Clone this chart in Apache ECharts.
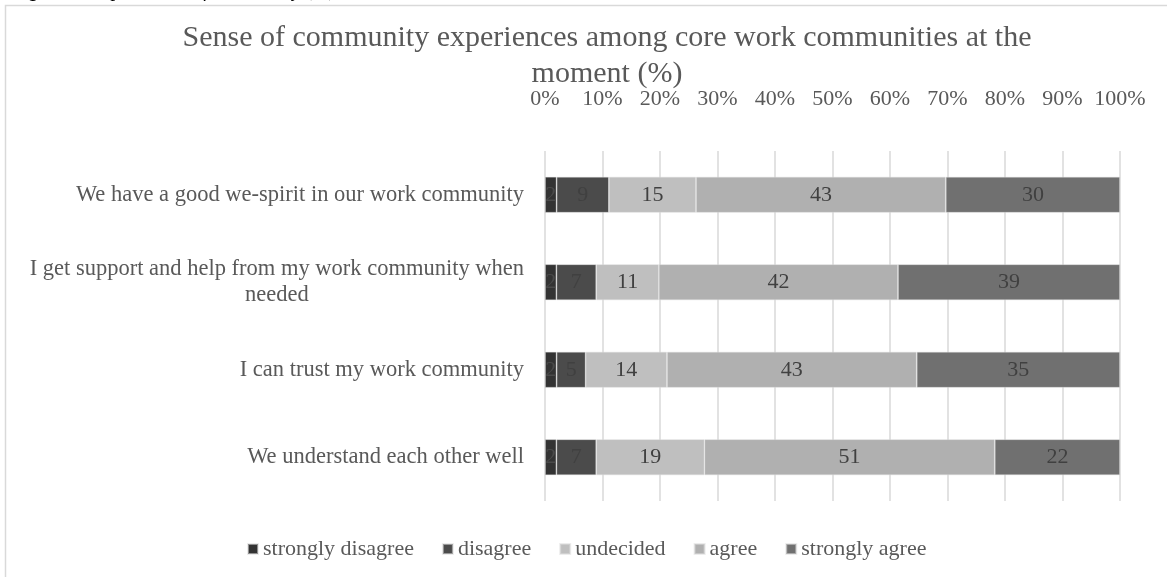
<!DOCTYPE html>
<html>
<head>
<meta charset="utf-8">
<title>Sense of community experiences</title>
<script src="https://cdn.jsdelivr.net/npm/echarts@6/dist/echarts.min.js"></script>
<style>
  html, body { margin: 0; padding: 0; background: #ffffff; }
  #chart { width: 1167px; height: 577px; }
</style>
</head>
<body>
<div id="chart"></div>
<script>
// Statements, top to bottom
const statements = [
  'We have a good we-spirit in our work community',
  'I get support and help from my work community when\nneeded',
  'I can trust my work community',
  'We understand each other well'
];

// Response categories
const responses = ['strongly disagree', 'disagree', 'undecided', 'agree', 'strongly agree'];

// Answer shares (%) per statement, in the order of the statements above
const stronglyDisagree = [2, 2, 2, 2];
const disagree         = [9, 7, 5, 7];
const undecided        = [15, 11, 14, 19];
const agree            = [43, 42, 43, 51];
const stronglyAgree    = [30, 39, 35, 22];

// Percent axis tick labels
const tickValues = [0, 10, 20, 30, 40, 50, 60, 70, 80, 90, 100];

const seriesValues = [stronglyDisagree, disagree, undecided, agree, stronglyAgree];
const seriesColors = ['#333333', '#4b4b4b', '#bfbfbf', '#b0b0b0', '#707070'];

// Each bar fills 100%: segments are scaled by the row total
const rowTotals = statements.map((_, i) =>
  seriesValues.reduce((s, arr) => s + arr[i], 0));

const serif = '"Liberation Serif", "Times New Roman", serif';
const textGrey = '#595959';

const series = responses.map((name, k) => ({
  name: name,
  type: 'bar',
  stack: 'all',
  barWidth: 36,
  itemStyle: { color: seriesColors[k], borderColor: 'rgba(220,220,220,0.55)', borderWidth: 0.8 },
  label: {
    show: true,
    position: 'inside',
    fontFamily: serif,
    fontSize: 22,
    color: k === 0 ? '#4a4a4a' : '#404040',
    formatter: p => String(seriesValues[k][p.dataIndex])
  },
  labelLayout: { hideOverlap: false },
  emphasis: { disabled: true },
  data: seriesValues[k].map((v, i) => v / rowTotals[i] * 100)
}));

const chart = echarts.init(document.getElementById('chart'), null, { renderer: 'canvas' });

chart.setOption({
  animation: false,
  backgroundColor: '#ffffff',
  graphic: [
    {
      type: 'rect',
      shape: { x: 5.5, y: 5.5, width: 1300, height: 700 },
      style: { fill: 'none', stroke: '#d9d9d9', lineWidth: 1.5 },
      silent: true
    },
    {
      type: 'text',
      x: 12,
      y: -19,
      style: {
        text: 'Figure 8. Experiences of community (%)',
        font: 'italic 20px ' + serif,
        fill: '#000000',
        verticalAlign: 'top'
      },
      silent: true
    }
  ],
  title: {
    text: 'Sense of community experiences among core work communities at the\nmoment (%)',
    left: 602,
    top: 15,
    textAlign: 'center',
    textStyle: {
      fontFamily: serif,
      fontSize: 30,
      fontWeight: 'normal',
      lineHeight: 36,
      color: textGrey
    }
  },
  legend: {
    data: responses,
    left: 242,
    top: 533,
    itemWidth: 10,
    itemHeight: 10,
    itemGap: 28,
    icon: 'rect',
    selectedMode: false,
    textStyle: { fontFamily: serif, fontSize: 22, color: textGrey }
  },
  grid: { left: 545, right: 47, top: 151, bottom: 76, containLabel: false },
  xAxis: {
    type: 'value',
    position: 'top',
    min: 0,
    max: 100,
    interval: 10,
    axisLine: { show: false },
    axisTick: { show: false },
    axisLabel: {
      margin: 41,
      fontFamily: serif,
      fontSize: 22,
      color: textGrey,
      formatter: v => tickValues.includes(v) ? v + '%' : ''
    },
    splitLine: { show: true, lineStyle: { color: '#d9d9d9', width: 1.5 } }
  },
  yAxis: {
    type: 'category',
    inverse: true,
    data: statements,
    axisLine: { show: false },
    axisTick: { show: false },
    axisLabel: {
      margin: 21,
      color: textGrey,
      fontFamily: serif,
      fontSize: 22.5,
      lineHeight: 26,
      formatter: v => v.split('\n').map(l => '{c|' + l + '}').join('\n'),
      rich: {
        c: { fontFamily: serif, fontSize: 22.5, color: textGrey, align: 'center', lineHeight: 26 }
      }
    }
  },
  series: series
});
</script>
</body>
</html>
